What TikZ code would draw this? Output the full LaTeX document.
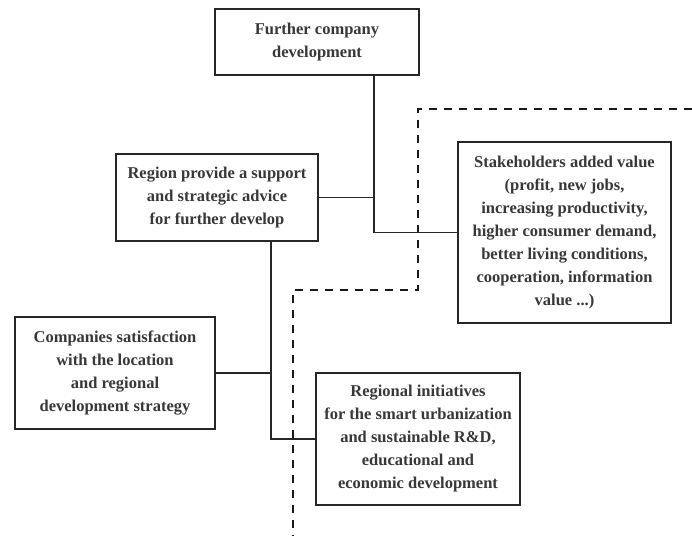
\documentclass[tikz,border=0pt]{standalone}
\usepackage{fontspec}
\setmainfont{Liberation Serif}
\begin{document}
\begin{tikzpicture}[x=1pt,y=-1pt,
  box/.style={draw=black!85, line width=1.8pt, fill=white, align=center, inner sep=0pt,
    font=\fontsize{16.5}{23}\selectfont\bfseries, text=black!78},
  link/.style={draw=black!85, line width=1.6pt},
  border/.style={draw=black!90, line width=2.2pt, dash pattern=on 8pt off 7pt}]
\useasboundingbox (0,0) rectangle (692,536);
% dashed border
\coordinate (d1) at (692,109);
\coordinate (d2) at (418,109);
\coordinate (d3) at (418,290);
\coordinate (d4) at (293,290);
\coordinate (d5) at (293,536);
\draw[border] (d1) -- (d2) -- (d3) -- (d4) -- (d5);
% boxes
\node[box, minimum width=204pt, minimum height=66pt] (top) at (317,42)
  {Further company\\development};
\node[box, minimum width=202pt, minimum height=87pt] (mid) at (217,197.5)
  {Region provide a support\\and strategic advice\\for further develop};
\node[box, minimum width=213pt, minimum height=181pt] (right) at (564.5,232.5)
  {Stakeholders added value\\(profit, new jobs,\\increasing productivity,\\higher consumer demand,\\better living conditions,\\cooperation, information\\value ...)};
\node[box, minimum width=200pt, minimum height=112pt] (left) at (115,373)
  {Companies satisfaction\\with the location\\and regional\\development strategy};
\node[box, minimum width=204pt, minimum height=132pt] (reg) at (418,439)
  {Regional initiatives\\for the smart urbanization\\and sustainable R\&D,\\educational and\\economic development};
% connectors
\coordinate (j1) at (374,197.5);
\coordinate (j2) at (271,373);
\draw[link] (top.south -| j1) -- (j1) |- (right.west);
\draw[link] (mid.east) -- (j1);
\draw[link] (mid.south -| j2) -- (j2) |- (reg.west);
\draw[link] (left.east) -- (j2);
\end{tikzpicture}
\end{document}
